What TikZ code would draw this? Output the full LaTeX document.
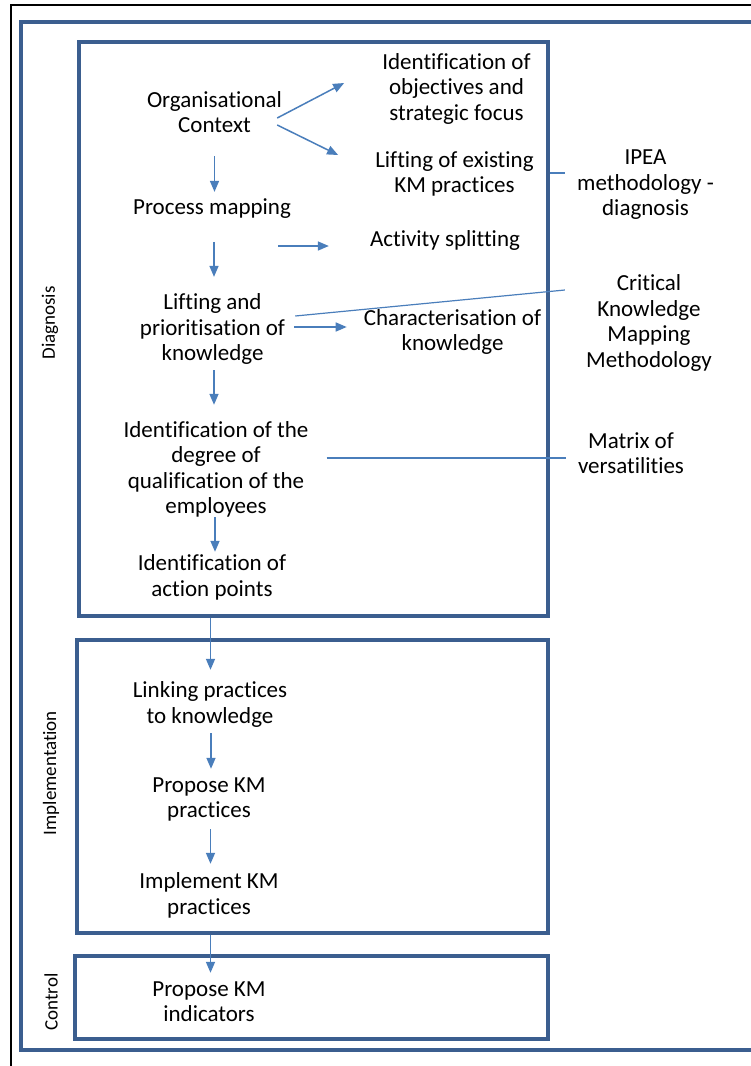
\documentclass[tikz,border=0pt]{standalone}
\usepackage{fontspec}
\setmainfont{Carlito}[Ligatures={NoCommon}]
\usetikzlibrary{arrows.meta,calc}
\definecolor{boxblue}{RGB}{59,94,143}
\definecolor{arrblue}{RGB}{74,126,187}
\tikzset{
  txt/.style={font=\fontsize{23}{25.5}\selectfont, align=center, inner sep=0pt},
  lines/.style={minimum height=#1*25.5pt},
  side/.style={font=\fontsize{19}{22}\selectfont, rotate=90, inner sep=0pt},
  phase/.style={draw=boxblue, line width=3.3pt},
  arr/.style={draw=arrblue, line width=1.5pt, -{Triangle[length=11pt,width=9pt]}},
  conn/.style={draw=arrblue, line width=1.2pt},
}
\begin{document}
\begin{tikzpicture}[x=1pt,y=-1pt]
\useasboundingbox (0,0) rectangle (751,1066);
\clip (0,0) rectangle (751,1066);
\fill[white] (0,0) rectangle (751,1066);
% frames
\draw[black, line width=1.6pt] (11,5) rectangle (820,1120);
\draw[boxblue, line width=3.3pt] (21,22) rectangle (820,1050);
\node[phase, minimum width=469pt, minimum height=574pt, inner sep=0pt] (diag) at (313.5,329) {};
\node[phase, minimum width=471pt, minimum height=293pt, inner sep=0pt] (impl) at (312.5,786.5) {};
\node[phase, minimum width=473pt, minimum height=83pt, inner sep=0pt] (ctrl) at (311.5,997.5) {};
% side labels
\node[side] (sdiag) at (50,323) {Diagnosis};
\node[side] (simpl) at (51,773) {Implementation};
\node[side] (sctrl) at (51,1002) {Control};
% diagnosis nodes
\node[txt, lines=2] (org) at (214.5,112) {Organisational\\Context};
\node[txt, lines=1] (proc) at (212,209) {Process mapping};
\node[txt, lines=3] (lift) at (212.5,329) {Lifting and\\prioritisation of\\knowledge};
\node[txt, lines=4] (deg) at (216,469.5) {Identification of the\\degree of\\qualification of the\\employees};
\node[txt, lines=2] (act) at (212,577.5) {Identification of\\action points};
\node[txt, lines=3] (obj) at (456.5,88.5) {Identification of\\objectives and\\strategic focus};
\node[txt, lines=2] (lifte) at (454.5,174) {Lifting of existing\\KM practices};
\node[txt, lines=1] (split) at (445,240) {Activity splitting};
\node[txt, lines=2] (char) at (452.5,332) {Characterisation of\\knowledge};
\node[txt, lines=3] (ipea) at (645.5,185) {IPEA\\methodology -\\diagnosis};
\node[txt, lines=4] (crit) at (649,323) {Critical\\Knowledge\\Mapping\\Methodology};
\node[txt, lines=2] (mat) at (631,453) {Matrix of\\versatilities};
% implementation nodes
\node[txt, lines=2] (link) at (210,704.5) {Linking practices\\to knowledge};
\node[txt, lines=2] (prop) at (209,799.5) {Propose KM\\practices};
\node[txt, lines=2] (impk) at (209,895.5) {Implement KM\\practices};
\node[txt, lines=2] (ind) at (209,1001.5) {Propose KM\\indicators};
% vertical arrows
\draw[arr, shorten <=18.5pt, shorten >=4.2pt] (org.south) -- (org.south |- proc.north);
\draw[arr, shorten <=20pt, shorten >=13.7pt] ([xshift=2pt]proc.south) -- ([xshift=2pt]proc.south |- lift.north);
\draw[arr, shorten <=2.7pt, shorten >=13.5pt] ([xshift=1.5pt]lift.south) -- ([xshift=1.5pt]lift.south |- deg.north);
\draw[arr, shorten <=-3.5pt, shorten >=0pt] ([xshift=-1pt]deg.south) -- ([xshift=-1pt]deg.south |- act.north);
\draw[arr, shorten >=9pt] ([xshift=0.5pt]link.north |- diag.south) -- ([xshift=0.5pt]link.north);
\draw[arr, shorten <=3pt, shorten >=5pt] ([xshift=1pt]link.south) -- ([xshift=1pt]link.south |- prop.north);
\draw[arr, shorten <=4pt, shorten >=6pt] ([xshift=1.5pt]prop.south) -- ([xshift=1.5pt]prop.south |- impk.north);
\draw[arr, shorten >=3pt] ([xshift=1.5pt]ind.north |- impl.south) -- ([xshift=1.5pt]ind.north);
% diagonal arrows
\draw[arr] ($(org.east)+(-5,6)$) -- ($(obj.west)+(-38,-5.5)$);
\draw[arr] ($(org.east)+(-5,13)$) -- ($(lifte.west)+(-37,-19)$);
% horizontal arrows
\draw[arr, shorten >=41pt] ($(proc.east)+(-13,37)$) coordinate (h1) -- (h1 -| split.west);
\draw[arr, shorten >=17pt] ($(lift.east)+(9,-2)$) coordinate (h2) -- (h2 -| char.west);
% plain connectors
\draw[conn, shorten >=12pt] ([yshift=1pt]lifte.east -| diag.east) -- ([yshift=1pt]lifte.east -| ipea.west);
\draw[conn] ($(lift.east)+(10,-13)$) -- ($(crit.west)+(-21,-33)$);
\draw[conn, shorten >=12pt] ($(deg.east)+(18,-11.5)$) coordinate (m1) -- (m1 -| mat.west);
\end{tikzpicture}
\end{document}
